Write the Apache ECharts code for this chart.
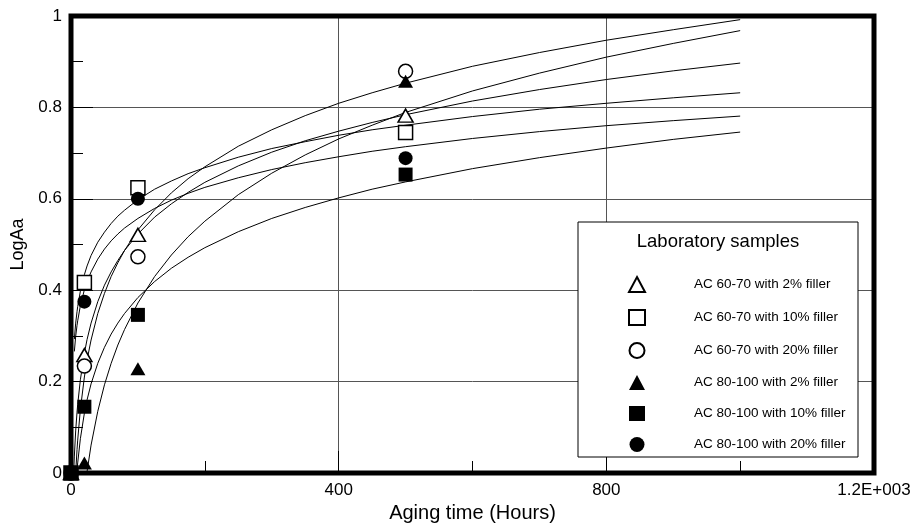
<!DOCTYPE html>
<html>
<head>
<meta charset="utf-8">
<script src="https://cdn.jsdelivr.net/npm/echarts@6/dist/echarts.min.js"></script>
<style>
  html, body { margin: 0; padding: 0; background: #fff; }
  #chart { width: 918px; height: 531px; }
</style>
</head>
<body>
<div id="chart"></div>
<script>
// measured points (hours / LogAa)
const sampleHours = [0, 20, 100, 500];
const ac6070f2 = [0, 0.258, 0.521, 0.782];
const ac6070f10 = [0, 0.417, 0.624, 0.745];
const ac6070f20 = [0, 0.234, 0.473, 0.879];
const ac80100f2 = [0, 0.022, 0.228, 0.857];
const ac80100f10 = [0, 0.145, 0.346, 0.653];
const ac80100f20 = [0, 0.375, 0.600, 0.689];

// trend curves
const curveHours = [4, 5, 7, 9, 10, 14, 20, 24, 30, 40, 50, 60, 70, 80, 100, 125, 150, 175, 200, 250, 300, 350, 400, 450, 500, 600, 700, 800, 900, 1000];
const curve6070f2 = [0.001, 0.037, 0.092, 0.133, 0.150, 0.204, 0.262, 0.292, 0.328, 0.375, 0.411, 0.440, 0.465, 0.487, 0.523, 0.560, 0.589, 0.614, 0.636, 0.672, 0.702, 0.727, 0.748, 0.767, 0.784, 0.814, 0.839, 0.861, 0.880, 0.897];
const curve6070f10 = [null, 0.293, 0.328, 0.353, 0.364, 0.398, 0.434, 0.453, 0.476, 0.505, 0.527, 0.546, 0.562, 0.575, 0.598, 0.621, 0.639, 0.655, 0.668, 0.691, 0.710, 0.725, 0.739, 0.751, 0.761, 0.780, 0.796, 0.809, 0.821, 0.832];
const curve6070f20 = [null, null, 0.001, 0.051, 0.072, 0.139, 0.210, 0.247, 0.291, 0.349, 0.393, 0.430, 0.460, 0.487, 0.532, 0.576, 0.613, 0.644, 0.670, 0.715, 0.751, 0.782, 0.809, 0.832, 0.853, 0.890, 0.920, 0.947, 0.970, 0.992];
const curve80100f2 = [null, null, null, null, null, null, null, 0.003, 0.061, 0.135, 0.193, 0.240, 0.280, 0.314, 0.372, 0.430, 0.477, 0.517, 0.551, 0.609, 0.656, 0.696, 0.731, 0.761, 0.789, 0.836, 0.875, 0.910, 0.940, 0.968];
const curve80100f10 = [null, null, null, 0.006, 0.022, 0.075, 0.131, 0.160, 0.195, 0.240, 0.275, 0.304, 0.328, 0.349, 0.384, 0.419, 0.448, 0.472, 0.493, 0.528, 0.557, 0.581, 0.602, 0.621, 0.637, 0.666, 0.690, 0.711, 0.730, 0.746];
const curve80100f20 = [null, 0.266, 0.299, 0.323, 0.333, 0.366, 0.401, 0.419, 0.440, 0.468, 0.490, 0.508, 0.523, 0.536, 0.557, 0.579, 0.597, 0.612, 0.625, 0.646, 0.664, 0.679, 0.692, 0.704, 0.714, 0.732, 0.747, 0.760, 0.771, 0.781];

const xTickLabels = ['0', '400', '800', '1.2E+003'];
const yTickLabels = ['0', '0.2', '0.4', '0.6', '0.8', '1'];

const font = 'Liberation Sans, Arial, sans-serif';

function pairs(xs, ys) {
  return xs.map((x, i) => [x, ys[i]]);
}

// label, points, curve, symbol, filled
const groups = [
  ['AC 60-70 with 2% filler', ac6070f2, curve6070f2, 'triangle', false],
  ['AC 60-70 with 10% filler', ac6070f10, curve6070f10, 'rect', false],
  ['AC 60-70 with 20% filler', ac6070f20, curve6070f20, 'circle', false],
  ['AC 80-100 with 2% filler', ac80100f2, curve80100f2, 'triangle', true],
  ['AC 80-100 with 10% filler', ac80100f10, curve80100f10, 'rect', true],
  ['AC 80-100 with 20% filler', ac80100f20, curve80100f20, 'circle', true]
];

let series = [];
groups.forEach((g) => {
  series.push({
    name: g[0] + ' fit',
    type: 'line',
    data: pairs(curveHours, g[2]),
    showSymbol: false,
    smooth: false,
    lineStyle: { color: '#000', width: 1 },
    z: 2,
    silent: true
  });
});
groups.forEach((g) => {
  series.push({
    name: g[0],
    type: 'scatter',
    data: pairs(sampleHours, g[1]),
    symbol: g[3],
    symbolSize: g[3] == 'triangle' ? [15, 13] : 14,
    itemStyle: g[4]
      ? { color: '#000', opacity: 1 }
      : { color: '#fff', borderColor: '#000', borderWidth: 1.5, opacity: 1 },
    z: 3
  });
});

const myChart = echarts.init(document.getElementById('chart'));
myChart.setOption({
  animation: false,
  backgroundColor: '#fff',
  grid: {
    left: 71,
    right: 44,
    top: 16,
    bottom: 58,
    show: true,
    borderColor: '#000',
    borderWidth: 5,
    z: 6
  },
  xAxis: {
    type: 'value',
    min: 0,
    max: 1200,
    interval: 400,
    name: 'Aging time (Hours)',
    nameLocation: 'middle',
    nameGap: 27,
    nameTextStyle: { fontFamily: font, fontSize: 20, color: '#000' },
    axisLine: { show: false },
    axisTick: { show: true, inside: true, length: 22, lineStyle: { color: '#000', width: 1 } },
    minorTick: { show: true, splitNumber: 2, length: 12, lineStyle: { color: '#000', width: 1 } },
    splitLine: { show: true, lineStyle: { color: '#555', width: 1 } },
    axisLabel: {
      fontFamily: font,
      fontSize: 17,
      color: '#000',
      margin: 9,
      formatter: (v) => xTickLabels[Math.round(v / 400)]
    }
  },
  yAxis: {
    type: 'value',
    min: 0,
    max: 1,
    interval: 0.2,
    name: 'LogAa',
    nameLocation: 'middle',
    nameGap: 44,
    nameRotate: 90,
    nameTextStyle: { fontFamily: font, fontSize: 18, color: '#000' },
    axisLine: { show: false },
    axisTick: { show: true, inside: true, length: 22, lineStyle: { color: '#000', width: 1 } },
    minorTick: { show: true, splitNumber: 2, length: 12, lineStyle: { color: '#000', width: 1 } },
    splitLine: { show: true, lineStyle: { color: '#555', width: 1 } },
    axisLabel: {
      fontFamily: font,
      fontSize: 17,
      color: '#000',
      margin: 9,
      formatter: (v) => yTickLabels[Math.round(v / 0.2)]
    }
  },
  graphic: [
    {
      type: 'rect',
      shape: { x: 578, y: 222, width: 280, height: 235 },
      style: { fill: '#fff', stroke: '#000', lineWidth: 1 },
      z: 4
    },
    {
      type: 'text',
      x: 718,
      y: 242,
      style: {
        text: 'Laboratory samples',
        fontFamily: font,
        fontSize: 18.5,
        fill: '#000',
        align: 'center',
        verticalAlign: 'middle'
      },
      z: 5
    }
  ],
  legend: {
    data: groups.map((g) => g[0]),
    orient: 'vertical',
    left: 628,
    top: 276,
    padding: 0,
    itemWidth: 16,
    itemHeight: 15,
    itemGap: 16,
    selectedMode: false,
    z: 6,
    textStyle: {
      fontFamily: font,
      fontSize: 13.5,
      color: '#000',
      padding: [0, 0, 0, 44]
    }
  },
  series: series
});
</script>
</body>
</html>
